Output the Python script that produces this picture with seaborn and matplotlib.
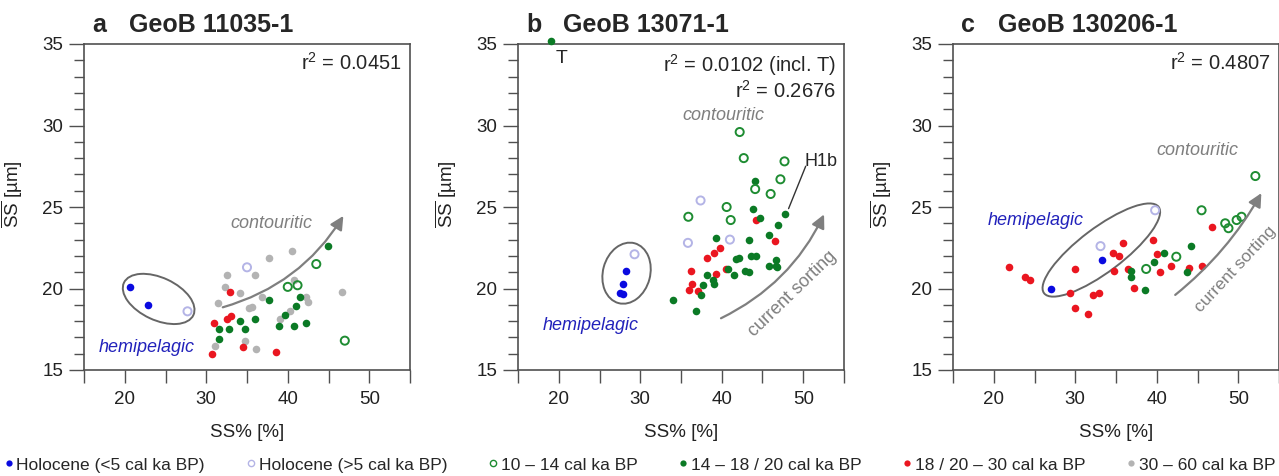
import numpy as np
import pandas as pd
import matplotlib
matplotlib.use('Agg')
import matplotlib.pyplot as plt
from matplotlib.patches import Ellipse
from matplotlib.lines import Line2D
from matplotlib.ticker import MultipleLocator, FuncFormatter
import seaborn as sns

# Age groups (legend order)
groups = ["holo_young", "holo_old", "deglac", "glac", "lgm", "mis3"]
group_labels = ["Holocene (<5 cal ka BP)", "Holocene (>5 cal ka BP)", "10 – 14 cal ka BP",
                "14 – 18 / 20 cal ka BP", "18 / 20 – 30 cal ka BP", "30 – 60 cal ka BP"]

# Panel a: GeoB 11035-1
a_holo_young_x = [20.6, 22.85]
a_holo_young_y = [20.1, 19.0]
a_holo_old_x = [27.7, 35.0]
a_holo_old_y = [18.6, 21.3]
a_deglac_x = [43.5, 40.0, 41.2, 47.0]
a_deglac_y = [21.5, 20.1, 20.2, 16.8]
a_glac_x = [44.9, 37.7, 41.5, 41.0, 39.7, 38.9, 40.8, 42.2, 36.0, 34.1, 34.75, 32.8, 31.6, 31.6]
a_glac_y = [22.6, 19.3, 19.5, 18.9, 18.4, 17.7, 17.7, 17.9, 18.1, 18.0, 17.5, 17.5, 17.5, 16.9]
a_lgm_x = [32.9, 33.0, 32.5, 30.9, 34.5, 38.6, 30.7]
a_lgm_y = [19.8, 18.3, 18.1, 17.9, 16.4, 16.1, 16.0]
a_mis3_x = [37.7, 40.5, 32.6, 36.0, 32.3, 34.2, 36.8, 31.5, 35.2, 35.6, 40.8, 42.3, 42.5, 46.6,
            39.0, 40.3, 34.7, 36.1, 31.1]
a_mis3_y = [21.9, 22.3, 20.8, 20.8, 20.1, 19.7, 19.5, 19.1, 18.8, 18.85, 20.5, 19.5, 19.2, 19.8,
            18.1, 18.6, 16.8, 16.3, 16.5]

# Panel b: GeoB 13071-1
b_holo_young_x = [28.2, 27.9, 27.5, 27.9]
b_holo_young_y = [21.1, 20.3, 19.7, 19.65]
b_holo_old_x = [29.3, 37.4, 35.85, 41.0]
b_holo_old_y = [22.1, 25.4, 22.8, 23.0]
b_deglac_x = [42.2, 42.7, 47.7, 47.2, 44.1, 46.0, 40.6, 35.9, 41.1]
b_deglac_y = [29.6, 28.0, 27.8, 26.7, 26.1, 25.8, 25.0, 24.4, 24.2]
b_glac_x = [19.1, 44.1, 43.8, 44.7, 47.7, 46.9, 45.8, 39.3, 43.3, 43.6, 44.2, 41.8, 42.1, 46.7,
            46.6, 45.8, 46.8, 40.8, 42.9, 43.3, 41.5, 38.2, 38.9, 39.0, 37.7, 37.4, 34.0, 36.9]
b_glac_y = [35.2, 26.6, 24.9, 24.3, 24.6, 23.9, 23.3, 23.1, 23.0, 22.0, 22.0, 21.8, 21.9, 21.75,
            21.4, 21.4, 21.3, 21.2, 21.1, 21.0, 20.8, 20.8, 20.5, 20.3, 20.2, 19.6, 19.3, 18.6]
b_lgm_x = [44.2, 46.5, 39.8, 39.0, 38.2, 36.2, 39.3, 40.5, 36.3, 36.0, 37.1]
b_lgm_y = [24.2, 22.9, 22.5, 22.2, 21.9, 21.1, 20.9, 21.2, 20.3, 19.9, 19.85]
b_mis3_x = []
b_mis3_y = []

# Panel c: GeoB 130206-1
c_holo_young_x = [33.3, 27.0]
c_holo_young_y = [21.75, 20.0]
c_holo_old_x = [39.8, 33.1]
c_holo_old_y = [24.8, 22.6]
c_deglac_x = [52.1, 45.5, 48.4, 48.8, 49.8, 50.4, 42.4, 38.7]
c_deglac_y = [26.9, 24.8, 24.0, 23.7, 24.2, 24.4, 21.95, 21.2]
c_glac_x = [44.2, 40.9, 39.7, 36.9, 36.9, 38.6, 43.7]
c_glac_y = [22.6, 22.2, 21.6, 21.1, 20.7, 19.9, 21.0]
c_lgm_x = [46.8, 39.6, 35.8, 34.6, 35.4, 40.0, 41.7, 44.0, 45.5, 40.4, 34.8, 36.5, 30.0, 21.9,
           23.8, 24.4, 37.2, 29.3, 32.9, 32.2, 30.0, 31.6]
c_lgm_y = [23.8, 23.0, 22.8, 22.2, 22.0, 22.1, 21.4, 21.25, 21.4, 21.0, 21.1, 21.2, 21.2, 21.3,
           20.7, 20.5, 20.05, 19.7, 19.75, 19.6, 18.8, 18.45]
c_mis3_x = []
c_mis3_y = []

panel_letters = ["a", "b", "c"]
panel_names = ["GeoB 11035-1", "GeoB 13071-1", "GeoB 130206-1"]
panel_r2 = ["r$^2$ = 0.0451", "r$^2$ = 0.0102 (incl. T)\nr$^2$ = 0.2676", "r$^2$ = 0.4807"]


def make_frame(prefix):
    g = globals()
    rows = []
    for grp in groups:
        for x, y in zip(g[f"{prefix}_{grp}_x"], g[f"{prefix}_{grp}_y"]):
            rows.append({"ss_pct": x, "ss_mean": y, "group": grp})
    return pd.DataFrame(rows)


# marker styles per group: (color, filled)
styles = {
    "holo_young": ("#0a0ae0", True),
    "holo_old": ("#b4b4e6", False),
    "deglac": ("#1e8c32", False),
    "glac": ("#0b7a25", True),
    "lgm": ("#ea1620", True),
    "mis3": ("#b3b3b3", True),
}

sns.set_theme(style="white")
plt.rcParams['font.family'] = ['Liberation Sans', 'DejaVu Sans']
plt.rcParams['mathtext.fontset'] = 'custom'
plt.rcParams['mathtext.rm'] = 'Liberation Sans'
plt.rcParams['mathtext.it'] = 'Liberation Sans:italic'

fig = plt.figure(figsize=(12.79, 4.76), dpi=100)
lefts = [84, 518, 953]
axes = [fig.add_axes([l / 1279, 106 / 476, 326 / 1279, 326 / 476]) for l in lefts]

grey = "#7f7f7f"
frame_col = "#505050"

for i, (ax, prefix) in enumerate(zip(axes, ["a", "b", "c"])):
    df = make_frame(prefix)
    for grp in ["mis3", "holo_old", "lgm", "glac", "deglac", "holo_young"]:
        sub = df[df["group"] == grp]
        if sub.empty:
            continue
        col, filled = styles[grp]
        sns.scatterplot(data=sub, x="ss_pct", y="ss_mean", ax=ax, color=col, s=30,
                        linewidth=0, legend=False, clip_on=False, zorder=3)
        coll = ax.collections[-1]
        if not filled:
            coll.set_facecolor("none")
            coll.set_edgecolor(col)
            coll.set_linewidth(1.4)
            coll.set_sizes([34])

    ax.set_xlim(15, 55)
    ax.set_ylim(15, 35)
    ax.xaxis.set_major_locator(MultipleLocator(5))
    ax.xaxis.set_major_formatter(FuncFormatter(lambda v, p: f"{v:.0f}" if v % 10 == 0 else ""))
    ax.yaxis.set_major_locator(MultipleLocator(5))
    ax.yaxis.set_minor_locator(MultipleLocator(1))
    ax.tick_params(axis="both", which="both", bottom=True, left=True, top=False, right=False)
    ax.tick_params(axis="both", which="major", direction="out", length=11, width=1,
                   color=frame_col, labelsize=13.5, labelcolor="#222222")
    ax.tick_params(axis="x", which="major", length=9, pad=6)
    ax.tick_params(axis="y", which="major", pad=4)
    ax.tick_params(axis="y", which="minor", direction="out", length=7.5, width=1,
                   color=frame_col)
    for sp in ax.spines.values():
        sp.set_color(frame_col)
        sp.set_linewidth(1.2)
    ax.set_xlabel("SS% [%]", fontsize=13.5, color="#222222")
    ax.set_ylabel(r"$\overline{\mathrm{SS}}$ [µm]", fontsize=13.5, color="#222222")
    ax.xaxis.set_label_coords(0.5, -0.165)
    ax.yaxis.set_label_coords(-0.18, 0.54)

    ax.text(0.025, 1.058, panel_letters[i], transform=ax.transAxes, fontsize=18,
            fontweight="bold", va="center", ha="left")
    ax.text(0.137, 1.058, panel_names[i], transform=ax.transAxes, fontsize=18,
            fontweight="bold", va="center", ha="left")
    ax.text(0.975, 0.975, panel_r2[i], transform=ax.transAxes, fontsize=14.5,
            va="top", ha="right", linespacing=1.1)

# panel a annotations
ax = axes[0]
ax.add_patch(Ellipse((0.229, 0.218), 0.235, 0.13, angle=-25, transform=ax.transAxes,
                     fill=False, edgecolor="#666666", lw=1.4))
ax.text(38.0, 24.0, "contouritic", color=grey, style="italic", fontsize=13, ha="center", va="center")
ax.text(22.7, 16.4, "hemipelagic", color="#2222bb", style="italic", fontsize=13, ha="center", va="center")
ax.annotate("", xy=(47.0, 24.6), xytext=(31.7, 18.8),
            arrowprops=dict(arrowstyle="-|>", connectionstyle="arc3,rad=0.2", color=grey,
                            lw=1.6, mutation_scale=20))

# panel b annotations
ax = axes[1]
ax.add_patch(Ellipse((0.333, 0.297), 0.19, 0.145, angle=75, transform=ax.transAxes,
                     fill=False, edgecolor="#666666", lw=1.4))
ax.text(40.2, 30.6, "contouritic", color=grey, style="italic", fontsize=13, ha="center", va="center")
ax.text(23.9, 17.75, "hemipelagic", color="#2222bb", style="italic", fontsize=13, ha="center", va="center")
ax.text(20.4, 34.1, "T", fontsize=14, ha="center", va="center")
ax.text(50.2, 27.8, "H1b", fontsize=13, ha="left", va="center")
ax.plot([48.2, 50.3], [24.9, 27.5], color="#333333", lw=1)
ax.annotate("", xy=(52.7, 24.7), xytext=(39.6, 18.1),
            arrowprops=dict(arrowstyle="-|>", connectionstyle="arc3,rad=0.18", color=grey,
                            lw=1.6, mutation_scale=20))
ax.text(48.7, 19.7, "current sorting", color=grey, fontsize=13, rotation=44,
        ha="center", va="center")

# panel c annotations
ax = axes[2]
ax.add_patch(Ellipse((0.455, 0.368), 0.44, 0.135, angle=37, transform=ax.transAxes,
                     fill=False, edgecolor="#666666", lw=1.4))
ax.text(45.0, 28.45, "contouritic", color=grey, style="italic", fontsize=13, ha="center", va="center")
ax.text(25.2, 24.2, "hemipelagic", color="#2222bb", style="italic", fontsize=13, ha="center", va="center")
ax.annotate("", xy=(53.0, 26.0), xytext=(42.0, 19.5),
            arrowprops=dict(arrowstyle="-|>", connectionstyle="arc3,rad=0.1", color=grey,
                            lw=1.6, mutation_scale=20))
ax.text(49.6, 21.2, "current sorting", color=grey, fontsize=12.5, rotation=47,
        ha="center", va="center")

# shared legend at bottom
handles = []
for grp in groups:
    col, filled = styles[grp]
    handles.append(Line2D([], [], ls="", marker="o", markersize=4.5,
                          markerfacecolor=col if filled else "none",
                          markeredgecolor=col, markeredgewidth=1.0 if not filled else 0))
fig.legend(handles, group_labels, loc="lower left", bbox_to_anchor=(0.0, 0.0, 1.0, 0.065),
           mode="expand", ncol=6, frameon=False, fontsize=12.5, handletextpad=0.15,
           handlelength=0.6, borderaxespad=0.1, borderpad=0.1)

fig.savefig("out.png", dpi=100)
plt.close(fig)
